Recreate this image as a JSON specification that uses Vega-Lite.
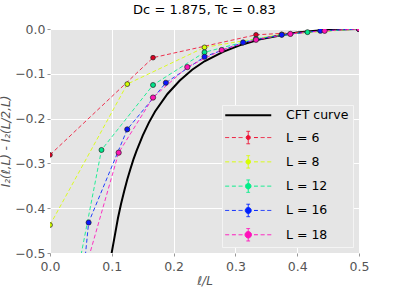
{
  "$schema": "https://vega.github.io/schema/vega-lite/v6.json",
  "width": 309,
  "height": 224,
  "autosize": "none",
  "padding": {"left": 50, "top": 29, "right": 40, "bottom": 46},
  "background": "white",
  "title": {"text": "Dc = 1.875, Tc = 0.83", "font": "DejaVu Sans", "fontSize": 13, "fontWeight": "normal", "color": "black", "offset": 6, "anchor": "middle"},
  "config": {
    "view": {"fill": "#e5e5e5", "stroke": null},
    "axis": {"grid": true, "gridColor": "white", "gridWidth": 1, "domain": false, "tickColor": "#999", "tickSize": 3, "labelColor": "#555", "labelFontSize": 12.5, "labelFont": "DejaVu Sans", "titleFont": "DejaVu Sans", "titleFontStyle": "italic", "titleFontWeight": "normal", "titleFontSize": 12, "titleColor": "#555"}
  },
  "datasets": {
    "cft": [
      {"series": "CFT curve", "x": 0.098, "y": -0.516},
      {"series": "CFT curve", "x": 0.1, "y": -0.498},
      {"series": "CFT curve", "x": 0.105, "y": -0.46},
      {"series": "CFT curve", "x": 0.11, "y": -0.422},
      {"series": "CFT curve", "x": 0.115, "y": -0.39},
      {"series": "CFT curve", "x": 0.12, "y": -0.362},
      {"series": "CFT curve", "x": 0.125, "y": -0.336},
      {"series": "CFT curve", "x": 0.13, "y": -0.313},
      {"series": "CFT curve", "x": 0.135, "y": -0.291},
      {"series": "CFT curve", "x": 0.14, "y": -0.272},
      {"series": "CFT curve", "x": 0.15, "y": -0.238},
      {"series": "CFT curve", "x": 0.16, "y": -0.209},
      {"series": "CFT curve", "x": 0.17, "y": -0.184},
      {"series": "CFT curve", "x": 0.19, "y": -0.145},
      {"series": "CFT curve", "x": 0.21, "y": -0.115},
      {"series": "CFT curve", "x": 0.23, "y": -0.091},
      {"series": "CFT curve", "x": 0.25, "y": -0.072},
      {"series": "CFT curve", "x": 0.28, "y": -0.051},
      {"series": "CFT curve", "x": 0.31, "y": -0.035},
      {"series": "CFT curve", "x": 0.34, "y": -0.023},
      {"series": "CFT curve", "x": 0.37, "y": -0.015},
      {"series": "CFT curve", "x": 0.4, "y": -0.008},
      {"series": "CFT curve", "x": 0.43, "y": -0.004},
      {"series": "CFT curve", "x": 0.46, "y": -0.001},
      {"series": "CFT curve", "x": 0.5, "y": 0}
    ],
    "sim": [
      {"series": "L = 6", "x": 0, "y": -0.281},
      {"series": "L = 6", "x": 0.1667, "y": -0.064},
      {"series": "L = 6", "x": 0.3333, "y": -0.013},
      {"series": "L = 6", "x": 0.5, "y": 0},
      {"series": "L = 8", "x": 0, "y": -0.4375},
      {"series": "L = 8", "x": 0.125, "y": -0.123},
      {"series": "L = 8", "x": 0.25, "y": -0.041},
      {"series": "L = 8", "x": 0.375, "y": -0.012},
      {"series": "L = 8", "x": 0.5, "y": 0},
      {"series": "L = 12", "x": 0, "y": -0.86},
      {"series": "L = 12", "x": 0.0833, "y": -0.27},
      {"series": "L = 12", "x": 0.1667, "y": -0.125},
      {"series": "L = 12", "x": 0.25, "y": -0.052},
      {"series": "L = 12", "x": 0.3333, "y": -0.022},
      {"series": "L = 12", "x": 0.4167, "y": -0.007},
      {"series": "L = 12", "x": 0.5, "y": 0},
      {"series": "L = 16", "x": 0, "y": -1.3},
      {"series": "L = 16", "x": 0.0625, "y": -0.432},
      {"series": "L = 16", "x": 0.125, "y": -0.224},
      {"series": "L = 16", "x": 0.1875, "y": -0.12},
      {"series": "L = 16", "x": 0.25, "y": -0.062},
      {"series": "L = 16", "x": 0.3125, "y": -0.03},
      {"series": "L = 16", "x": 0.375, "y": -0.013},
      {"series": "L = 16", "x": 0.4375, "y": -0.004},
      {"series": "L = 16", "x": 0.5, "y": 0},
      {"series": "L = 18", "x": 0, "y": -1.2},
      {"series": "L = 18", "x": 0.0556, "y": -0.544},
      {"series": "L = 18", "x": 0.1111, "y": -0.276},
      {"series": "L = 18", "x": 0.1667, "y": -0.153},
      {"series": "L = 18", "x": 0.2222, "y": -0.085},
      {"series": "L = 18", "x": 0.2778, "y": -0.047},
      {"series": "L = 18", "x": 0.3333, "y": -0.024},
      {"series": "L = 18", "x": 0.3889, "y": -0.011},
      {"series": "L = 18", "x": 0.4444, "y": -0.004},
      {"series": "L = 18", "x": 0.5, "y": 0}
    ]
  },
  "encoding": {
    "x": {"field": "x", "type": "quantitative", "scale": {"domain": [0, 0.5], "nice": false, "zero": false}, "axis": {"values": [0, 0.1, 0.2, 0.3, 0.4, 0.5], "format": ".1f", "labelFlush": false, "title": "ℓ/L", "titlePadding": 3, "labelPadding": 4}},
    "y": {"field": "y", "type": "quantitative", "scale": {"domain": [-0.5, 0], "nice": false, "zero": false}, "axis": {"values": [-0.5, -0.4, -0.3, -0.2, -0.1, 0], "format": ".1f", "labelFlush": false, "title": "I₂(ℓ,L) - I₂(L/2,L)", "titlePadding": 2, "labelPadding": 2}}
  },
  "layer": [
    {
      "data": {"name": "cft"},
      "mark": {"type": "line", "clip": true, "strokeWidth": 2},
      "encoding": {
        "color": {
          "field": "series", "type": "nominal",
          "scale": {"domain": ["CFT curve", "L = 6", "L = 8", "L = 12", "L = 16", "L = 18"], "range": ["#000000", "#ee1133", "#d8ff00", "#00ee88", "#0022ff", "#ff11bb"]},
          "legend": {
            "title": null, "orient": "bottom-right", "offset": 6, "padding": 4,
            "fillColor": "#e5e5e5", "strokeColor": "#f4f4f4",
            "labelFont": "DejaVu Sans", "labelFontSize": 12.5, "labelColor": "black", "labelOffset": 31.5, "symbolOffset": 16,
            "symbolSize": 2116, "symbolType": "M-1,0H1", "rowPadding": 7.3,
            "encode": {"symbols": {"update": {
              "shape": {"signal": "datum.value === 'CFT curve' ? 'M-1,0H1' : 'M-1,0H-0.83M-0.71,0H-0.54M-0.42,0H-0.25M0.25,0H0.42M0.54,0H0.71M0.83,0H1M0,-0.27V0.27M-0.08,-0.27H0.08M-0.08,0.27H0.08M' + [0.09,0.1,0.12,0.13,0.14][indexof(['L = 6','L = 8','L = 12','L = 16','L = 18'], datum.value)] + ',0A' + [0.09,0.1,0.12,0.13,0.14][indexof(['L = 6','L = 8','L = 12','L = 16','L = 18'], datum.value)] + ',' + [0.09,0.1,0.12,0.13,0.14][indexof(['L = 6','L = 8','L = 12','L = 16','L = 18'], datum.value)] + ',0,1,1,-' + [0.09,0.1,0.12,0.13,0.14][indexof(['L = 6','L = 8','L = 12','L = 16','L = 18'], datum.value)] + ',0A' + [0.09,0.1,0.12,0.13,0.14][indexof(['L = 6','L = 8','L = 12','L = 16','L = 18'], datum.value)] + ',' + [0.09,0.1,0.12,0.13,0.14][indexof(['L = 6','L = 8','L = 12','L = 16','L = 18'], datum.value)] + ',0,1,1,' + [0.09,0.1,0.12,0.13,0.14][indexof(['L = 6','L = 8','L = 12','L = 16','L = 18'], datum.value)] + ',0Z'"},
              "size": {"value": 2116},
              "fill": {"signal": "datum.value === 'CFT curve' ? 'transparent' : scale('color', datum.value)"},
              "stroke": {"signal": "scale('color', datum.value)"},
              "strokeWidth": {"signal": "datum.value === 'CFT curve' ? 2 : 1"},
              "strokeDash": {"value": [1, 0]},
              "opacity": {"value": 1}
            }}}
          }
        }
      }
    },
    {
      "data": {"name": "sim"},
      "mark": {"type": "line", "clip": true, "strokeWidth": 1, "strokeDash": [4, 2.5], "opacity": 0.85},
      "encoding": {
        "color": {"field": "series", "type": "nominal"}
      }
    },
    {
      "data": {"name": "sim"},
      "mark": {"type": "point", "clip": true, "filled": true, "shape": "circle", "stroke": "#222", "strokeWidth": 0.7, "opacity": 1},
      "encoding": {
        "fill": {"field": "series", "type": "nominal", "scale": {"domain": ["L = 6", "L = 8", "L = 12", "L = 16", "L = 18"], "range": ["#dd0022", "#d4ff00", "#00e68a", "#0a14ff", "#ff14b4"]}, "legend": null},
        "size": {"field": "series", "type": "ordinal", "scale": {"domain": ["L = 6", "L = 8", "L = 12", "L = 16", "L = 18"], "range": [22, 28, 38, 50, 62]}, "legend": null}
      }
    }
  ]
}
